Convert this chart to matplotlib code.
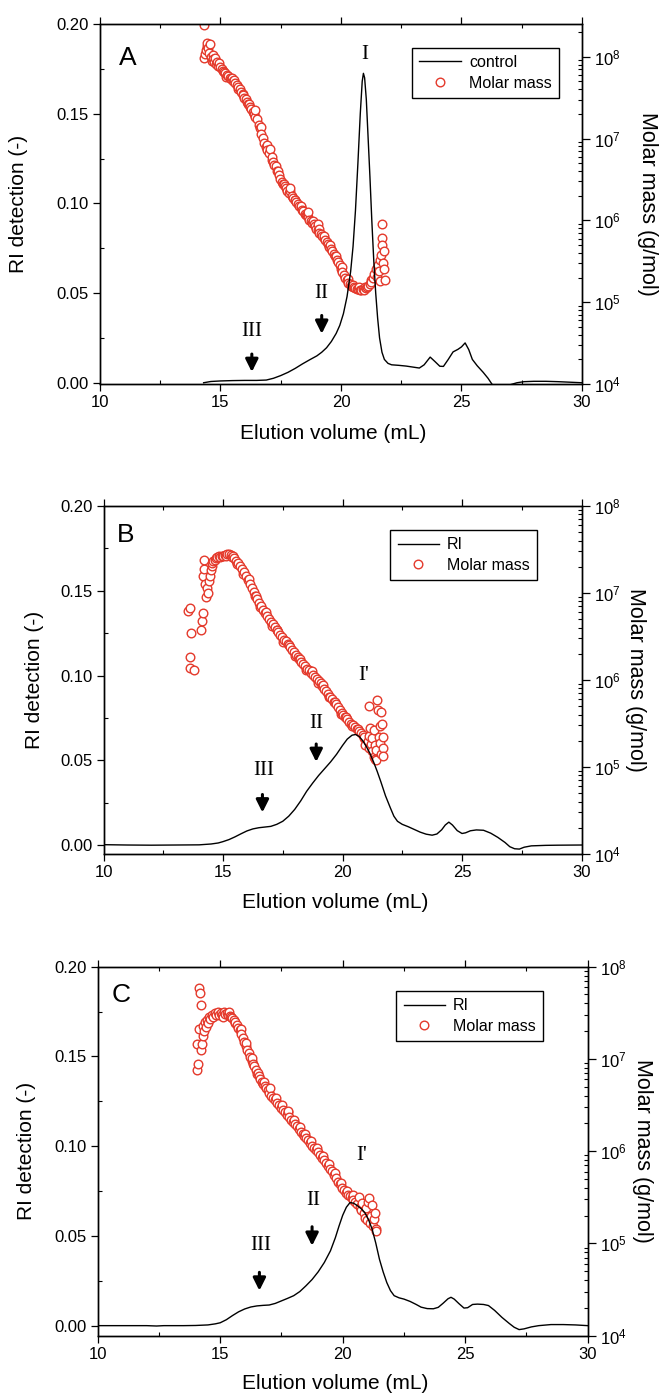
import numpy as np
import matplotlib
matplotlib.use('Agg')
import matplotlib.pyplot as plt
from matplotlib.ticker import MultipleLocator, LogLocator, LogFormatterSciNotation, NullFormatter

plt.rcParams['font.family'] = ['Liberation Sans', 'DejaVu Sans']
plt.rcParams['mathtext.fontset'] = 'custom'
plt.rcParams['mathtext.rm'] = 'Liberation Sans'
plt.rcParams['mathtext.it'] = 'Liberation Sans:italic'
plt.rcParams['mathtext.bf'] = 'Liberation Sans:bold'

# ---------------- Panel A data ----------------
ri_vol_A = [14.30, 14.60, 15.00, 15.50, 16.00, 16.50, 16.90, 17.20, 17.50, 17.80, 18.10, 18.40,
            18.70, 19.00, 19.20, 19.40, 19.60, 19.80, 19.95, 20.10, 20.25, 20.40, 20.50, 20.60,
            20.70, 20.80, 20.88, 20.93, 20.98, 21.05, 21.12, 21.20, 21.28, 21.36, 21.44, 21.52,
            21.60, 21.70, 21.80, 21.95, 22.10, 22.40, 22.70, 23.00, 23.25, 23.45, 23.70, 23.90,
            24.10, 24.25, 24.45, 24.65, 24.85, 25.00, 25.15, 25.30, 25.45, 25.65, 25.90, 26.10,
            26.30, 26.50, 26.75, 27.00, 27.30, 27.60, 28.00, 28.50, 29.00, 29.50, 30.00]
ri_sig_A = [0.0000, 0.0007, 0.0010, 0.0012, 0.0013, 0.0013, 0.0015, 0.0025, 0.0040, 0.0058, 0.0080, 0.0105,
            0.0128, 0.0150, 0.0170, 0.0195, 0.0230, 0.0275, 0.0320, 0.0385, 0.0480, 0.0620, 0.0760, 0.0960,
            0.1220, 0.1500, 0.1680, 0.1725, 0.1700, 0.1580, 0.1380, 0.1150, 0.0900, 0.0680, 0.0500, 0.0360,
            0.0250, 0.0170, 0.0130, 0.0108, 0.0100, 0.0097, 0.0093, 0.0087, 0.0082, 0.0100, 0.0143, 0.0118,
            0.0092, 0.0091, 0.0130, 0.0172, 0.0186, 0.0200, 0.0222, 0.0185, 0.0130, 0.0095, 0.0058, 0.0025,
            -0.0015, -0.0035, -0.0025, -0.0012, 0.0000, 0.0006, 0.0008, 0.0008, 0.0006, 0.0003, 0.0000]

mm_vol_A = [14.30, 14.33, 14.36, 14.40, 14.43, 14.46, 14.50, 14.53, 14.56, 14.60, 14.63, 14.67,
            14.70, 14.74, 14.78, 14.82, 14.86, 14.90, 14.95, 15.00, 15.05, 15.10, 15.15, 15.20,
            15.26, 15.32, 15.38, 15.44, 15.50, 15.56, 15.62, 15.68, 15.74, 15.80, 15.86, 15.92,
            15.98, 16.04, 16.10, 16.16, 16.22, 16.28, 16.34, 16.40, 16.45, 16.52, 16.58, 16.64,
            16.70, 16.76, 16.82, 16.88, 16.94, 17.00, 17.05, 17.12, 17.18, 17.24, 17.30, 17.36,
            17.42, 17.48, 17.54, 17.60, 17.66, 17.72, 17.78, 17.84, 17.90, 17.96, 18.02, 18.08,
            18.14, 18.20, 18.26, 18.32, 18.38, 18.44, 18.50, 18.56, 18.62, 18.65, 18.68, 18.74,
            18.80, 18.86, 18.92, 18.98, 19.04, 19.05, 19.10, 19.16, 19.22, 19.28, 19.34, 19.40,
            19.46, 19.52, 19.58, 19.64, 19.70, 19.76, 19.82, 19.88, 19.94, 20.00, 20.06, 20.12,
            20.18, 20.24, 20.30, 20.36, 20.42, 20.48, 20.54, 20.60, 20.66, 20.72, 20.78, 20.84,
            20.90, 20.96, 21.02, 21.08, 21.14, 21.20, 21.26, 21.32, 21.38, 21.44, 21.48, 21.52,
            21.56, 21.60, 21.62, 21.66, 21.69, 21.70, 21.72, 21.75, 21.77, 21.80, 21.83,
            15.23, 15.47, 15.71, 15.95, 16.19, 16.43, 16.67, 16.91, 17.15, 17.39, 17.63, 17.87,
            18.11, 18.35, 18.59, 18.83, 19.07, 19.31, 19.55, 19.79, 20.03, 20.27, 20.51, 20.75,
            20.99, 21.23]
mm_log_A = [8.39, 7.99, 8.03, 8.08, 8.13, 8.17, 8.11, 8.05, 8.16, 8.00, 7.95, 8.02,
            7.97, 7.93, 7.98, 7.91, 7.94, 7.89, 7.92, 7.87, 7.85, 7.83, 7.81, 7.80,
            7.78, 7.76, 7.74, 7.73, 7.70, 7.72, 7.68, 7.66, 7.63, 7.60, 7.57, 7.54,
            7.50, 7.48, 7.45, 7.42, 7.38, 7.36, 7.33, 7.30, 7.35, 7.24, 7.17, 7.13,
            7.06, 7.01, 6.95, 6.90, 6.86, 6.82, 6.87, 6.74, 6.71, 6.68, 6.66, 6.60,
            6.55, 6.50, 6.47, 6.44, 6.42, 6.39, 6.36, 6.34, 6.40, 6.30, 6.27, 6.25,
            6.22, 6.20, 6.18, 6.16, 6.13, 6.11, 6.08, 6.06, 6.04, 6.10, 6.01, 5.99,
            5.97, 5.95, 5.93, 5.90, 5.88, 5.96, 5.85, 5.83, 5.81, 5.78, 5.76, 5.73,
            5.71, 5.68, 5.65, 5.62, 5.59, 5.56, 5.52, 5.49, 5.45, 5.41, 5.37, 5.33,
            5.30, 5.27, 5.24, 5.22, 5.20, 5.19, 5.18, 5.17, 5.16, 5.16, 5.15, 5.15,
            5.16, 5.15, 5.17, 5.18, 5.20, 5.22, 5.25, 5.30, 5.35, 5.40, 5.31, 5.45,
            5.38, 5.52, 5.26, 5.58, 5.79, 5.96, 5.70, 5.48, 5.40, 5.62, 5.27,
            7.75, 7.74, 7.60, 7.53, 7.42, 7.26, 7.14, 6.92, 6.77, 6.60, 6.45, 6.36,
            6.25, 6.17, 6.06, 5.99, 5.90, 5.81, 5.70, 5.56, 5.43, 5.28, 5.21, 5.18,
            5.19, 5.27]

# ---------------- Panel B data ----------------
ri_vol_B = [10.0, 11.0, 12.0, 13.0, 14.0, 14.5, 14.8, 15.0, 15.25, 15.5, 15.75, 16.0, 16.25, 16.5,
            16.75, 17.0, 17.25, 17.5, 17.75, 18.0, 18.25, 18.5, 18.75, 19.0, 19.25, 19.5, 19.75,
            20.0, 20.2, 20.4, 20.55, 20.7, 20.85, 21.0, 21.15, 21.3, 21.45, 21.6, 21.8, 22.0,
            22.15, 22.3, 22.5, 22.75, 23.0, 23.25, 23.5, 23.75, 23.95, 24.15, 24.3, 24.45, 24.6,
            24.8, 25.0, 25.15, 25.35, 25.6, 25.9, 26.2, 26.5, 26.8, 27.0, 27.2, 27.4, 27.6, 27.9,
            28.5, 29.0, 30.0]
ri_sig_B = [0.0002, 0.0000, -0.0001, 0.0000, 0.0001, 0.0006, 0.0012, 0.0020, 0.0032, 0.0048, 0.0066,
            0.0083, 0.0095, 0.0102, 0.0106, 0.0110, 0.0122, 0.0140, 0.0170, 0.0210, 0.0260, 0.0317,
            0.0365, 0.0410, 0.0450, 0.0490, 0.0535, 0.0587, 0.0625, 0.0648, 0.0652, 0.0640, 0.0615,
            0.0580, 0.0540, 0.0490, 0.0435, 0.0375, 0.0290, 0.0220, 0.0170, 0.0140, 0.0122, 0.0108,
            0.0092, 0.0076, 0.0064, 0.0058, 0.0065, 0.0090, 0.0118, 0.0135, 0.0118, 0.0085, 0.0068,
            0.0072, 0.0084, 0.0089, 0.0087, 0.0070, 0.0045, 0.0015, -0.0010, -0.0022, -0.0024,
            -0.0013, -0.0005, -0.0002, -0.0001, 0.0000]

mm_vol_B = [13.55, 13.62, 13.65, 13.60, 13.60, 13.78, 14.10, 14.14, 14.18, 14.15, 14.22, 14.20,
            14.26, 14.30, 14.32, 14.36, 14.40, 14.44, 14.48, 14.52, 14.56, 14.60, 14.65, 14.70,
            14.76, 14.82, 14.88, 14.94, 15.00, 15.08, 15.16, 15.24, 15.32, 15.40, 15.48, 15.56,
            15.64, 15.72, 15.80, 15.88, 15.96, 16.04, 16.12, 16.20, 16.28, 16.36, 16.44, 16.52,
            16.60, 16.68, 16.76, 16.84, 16.92, 17.00, 17.08, 17.16, 17.24, 17.32, 17.40, 17.48,
            17.56, 17.64, 17.72, 17.80, 17.88, 17.96, 18.04, 18.12, 18.20, 18.28, 18.36, 18.44,
            18.52, 18.60, 18.68, 18.76, 18.84, 18.92, 19.00, 19.08, 19.16, 19.24, 19.32, 19.40,
            19.48, 19.56, 19.64, 19.72, 19.80, 19.88, 19.96, 20.04, 20.12, 20.20, 20.28, 20.36,
            20.44, 20.52, 20.60, 20.68, 20.76, 20.84, 20.92, 20.96, 21.05, 21.09, 21.10, 21.12,
            21.15, 21.20, 21.22, 21.25, 21.30, 21.32, 21.35, 21.37, 21.40, 21.42, 21.46, 21.49,
            21.52, 21.55, 21.58, 21.60, 21.63, 21.65, 21.68, 21.70, 21.70,
            15.12, 15.36, 15.60, 15.84, 16.08, 16.32, 16.56, 16.80, 17.04, 17.28, 17.52, 17.76,
            18.00, 18.24, 18.48, 18.72, 18.96, 19.20, 19.44, 19.68, 19.92, 20.16, 20.40, 20.64,
            20.88]
mm_log_B = [6.79, 6.83, 6.54, 6.27, 6.14, 6.12, 6.58, 6.68, 6.77, 7.20, 7.38, 7.28,
            7.10, 6.95, 7.06, 7.00, 7.14, 7.20, 7.26, 7.31, 7.34, 7.37, 7.38, 7.40,
            7.41, 7.42, 7.41, 7.43, 7.43, 7.44, 7.45, 7.45, 7.44, 7.43, 7.40, 7.37,
            7.34, 7.31, 7.28, 7.24, 7.20, 7.15, 7.10, 7.06, 7.01, 6.97, 6.93, 6.89,
            6.85, 6.81, 6.77, 6.74, 6.70, 6.67, 6.64, 6.61, 6.58, 6.55, 6.52, 6.49,
            6.46, 6.45, 6.41, 6.38, 6.35, 6.32, 6.29, 6.27, 6.24, 6.21, 6.18, 6.16,
            6.13, 6.11, 6.08, 6.06, 6.04, 6.01, 5.99, 5.96, 5.93, 5.90, 5.87, 5.84,
            5.81, 5.78, 5.75, 5.72, 5.69, 5.66, 5.62, 5.60, 5.57, 5.55, 5.52, 5.50,
            5.48, 5.46, 5.44, 5.41, 5.39, 5.37, 5.34, 5.25, 5.30, 5.70, 5.22, 5.36,
            5.45, 5.27, 5.18, 5.33, 5.42, 5.12, 5.25, 5.09, 5.20, 5.08, 5.77, 5.65,
            5.35, 5.28, 5.47, 5.15, 5.63, 5.50, 5.22, 5.34, 5.13,
            7.42, 7.41, 7.33, 7.22, 7.16, 6.97, 6.84, 6.78, 6.62, 6.58, 6.44, 6.40,
            6.28, 6.24, 6.12, 6.10, 5.97, 5.94, 5.80, 5.75, 5.61, 5.57, 5.47, 5.44,
            5.33]

# ---------------- Panel C data ----------------
ri_vol_C = [10.0, 11.0, 12.0, 12.4, 12.7, 13.5, 14.0, 14.5, 14.8, 15.0, 15.25, 15.5, 15.75, 16.0,
            16.25, 16.5, 16.75, 17.0, 17.25, 17.5, 17.75, 18.0, 18.25, 18.5, 18.75, 19.0, 19.25,
            19.5, 19.7, 19.85, 20.0, 20.15, 20.3, 20.45, 20.6, 20.75, 20.9, 21.05, 21.2, 21.35,
            21.5, 21.65, 21.8, 21.95, 22.1, 22.3, 22.5, 22.75, 23.0, 23.2, 23.45, 23.7, 23.9,
            24.1, 24.3, 24.42, 24.55, 24.75, 24.95, 25.1, 25.3, 25.5, 25.75, 25.95, 26.2, 26.5,
            26.8, 27.0, 27.2, 27.4, 27.7, 28.0, 28.5, 29.0, 29.5, 30.0]
ri_sig_C = [0.0000, 0.0000, 0.0000, -0.0002, 0.0000, 0.0000, 0.0001, 0.0004, 0.0010, 0.0016, 0.0033,
            0.0056, 0.0077, 0.0093, 0.0104, 0.0110, 0.0113, 0.0115, 0.0124, 0.0138, 0.0152, 0.0167,
            0.0190, 0.0222, 0.0257, 0.0300, 0.0352, 0.0417, 0.0490, 0.0555, 0.0615, 0.0660, 0.0686,
            0.0682, 0.0668, 0.0652, 0.0630, 0.0592, 0.0538, 0.0460, 0.0370, 0.0300, 0.0240, 0.0195,
            0.0167, 0.0155, 0.0148, 0.0135, 0.0118, 0.0103, 0.0095, 0.0094, 0.0102, 0.0125, 0.0150,
            0.0158, 0.0148, 0.0122, 0.0098, 0.0100, 0.0118, 0.0120, 0.0118, 0.0112, 0.0085, 0.0046,
            0.0012, -0.0009, -0.0022, -0.0018, -0.0007, 0.0000, 0.0006, 0.0006, 0.0004, 0.0000]

mm_vol_C = [14.05, 14.10, 14.05, 14.15, 14.17, 14.20, 14.15, 14.25, 14.22, 14.30, 14.28, 14.34,
            14.38, 14.42, 14.46, 14.50, 14.55, 14.60, 14.66, 14.72, 14.78, 14.84, 14.90, 14.96,
            15.02, 15.08, 15.14, 15.20, 15.26, 15.32, 15.38, 15.44, 15.50, 15.56, 15.62, 15.68,
            15.74, 15.80, 15.86, 15.92, 15.98, 16.04, 16.10, 16.16, 16.22, 16.28, 16.34, 16.40,
            16.46, 16.52, 16.58, 16.64, 16.70, 16.76, 16.82, 16.88, 16.94, 17.00, 17.08, 17.16,
            17.24, 17.32, 17.40, 17.48, 17.56, 17.64, 17.72, 17.77, 17.80, 17.88, 17.96, 18.04,
            18.12, 18.20, 18.28, 18.36, 18.44, 18.52, 18.60, 18.68, 18.76, 18.84, 18.92, 19.00,
            19.08, 19.16, 19.24, 19.32, 19.40, 19.48, 19.56, 19.64, 19.72, 19.80, 19.88, 19.96,
            20.04, 20.12, 20.20, 20.28, 20.36, 20.44, 20.52, 20.60, 20.66, 20.70, 20.75, 20.80,
            20.85, 20.90, 20.95, 21.00, 21.05, 21.08, 21.12, 21.16, 21.20, 21.24, 21.28, 21.32,
            21.34, 21.36,
            15.11, 15.35, 15.59, 15.83, 16.07, 16.31, 16.55, 16.79, 17.04, 17.28, 17.52, 17.76,
            18.00, 18.24, 18.48, 18.72, 18.96, 19.20, 19.44, 19.68, 19.92, 20.16, 20.40]
mm_log_C = [6.88, 6.94, 7.16, 7.77, 7.72, 7.58, 7.32, 7.16, 7.10, 7.25, 7.36, 7.30,
            7.40, 7.35, 7.42, 7.39, 7.45, 7.43, 7.48, 7.46, 7.50, 7.48, 7.51, 7.48,
            7.50, 7.48, 7.51, 7.49, 7.50, 7.48, 7.47, 7.46, 7.44, 7.42, 7.40, 7.37,
            7.34, 7.31, 7.27, 7.23, 7.18, 7.14, 7.10, 7.06, 7.02, 6.98, 6.95, 6.92,
            6.88, 6.84, 6.81, 6.78, 6.75, 6.73, 6.71, 6.68, 6.66, 6.63, 6.60, 6.58,
            6.55, 6.52, 6.50, 6.47, 6.45, 6.42, 6.39, 6.44, 6.37, 6.34, 6.32, 6.29,
            6.27, 6.24, 6.21, 6.19, 6.17, 6.14, 6.12, 6.09, 6.06, 6.04, 6.01, 5.99,
            5.96, 5.93, 5.90, 5.87, 5.84, 5.81, 5.78, 5.74, 5.71, 5.67, 5.64, 5.60,
            5.58, 5.55, 5.53, 5.51, 5.49, 5.47, 5.45, 5.43, 5.50, 5.40, 5.36, 5.44,
            5.33, 5.28, 5.38, 5.25, 5.45, 5.49, 5.22, 5.30, 5.42, 5.19, 5.26, 5.33,
            5.16, 5.13,
            7.46, 7.51, 7.39, 7.33, 7.17, 7.01, 6.85, 6.75, 6.68, 6.58, 6.50, 6.43,
            6.34, 6.26, 6.19, 6.11, 6.03, 5.95, 5.86, 5.76, 5.65, 5.57, 5.52]

RED = '#e4392b'

fig = plt.figure(figsize=(6.59, 13.99), dpi=100)


def panel(rect, ri_v, ri_y, mm_v, mm_l, ylim_l, ylim_r, letter, letter_xy, line_label,
          numerals, arrows, leg_anchor, ylab_x, yrlab_x, xlab_y):
    ax = fig.add_axes(rect)
    ax2 = ax.twinx()
    ax.set_zorder(ax2.get_zorder() + 1)
    ax.patch.set_visible(False)

    mv = np.asarray(mm_v)
    ml = np.asarray(mm_l)
    order = np.argsort(mv, kind='stable')
    hm, = ax2.plot(mv[order], 10 ** ml[order], 'o', ls='none', mfc='white', mec=RED,
                   ms=6.2, mew=1.0, label='Molar mass')
    hl, = ax.plot(ri_v, ri_y, '-', color='black', lw=1.0, label=line_label)

    ax.set_xlim(10, 30)
    ax.set_ylim(*ylim_l)
    ax2.set_yscale('log')
    ax2.set_ylim(*ylim_r)

    ax.xaxis.set_major_locator(MultipleLocator(5))
    ax.xaxis.set_minor_locator(MultipleLocator(2.5))
    ax.yaxis.set_major_locator(MultipleLocator(0.05))
    ax.yaxis.set_minor_locator(MultipleLocator(0.025))
    ax.yaxis.set_major_formatter(matplotlib.ticker.FormatStrFormatter('%.2f'))
    ax.tick_params(which='major', direction='out', length=5, width=0.9, labelsize=12, pad=3,
                   top=True, right=False)
    ax.tick_params(which='minor', direction='in', length=3, width=0.8, top=True, right=False)

    ax2.yaxis.set_major_locator(LogLocator(base=10, numticks=10))
    ax2.yaxis.set_minor_locator(LogLocator(base=10, subs=np.arange(2, 10), numticks=20))
    ax2.yaxis.set_major_formatter(LogFormatterSciNotation())
    ax2.yaxis.set_minor_formatter(NullFormatter())
    ax2.tick_params(which='major', direction='out', length=6, width=0.9, labelsize=12, pad=3)
    ax2.tick_params(which='minor', direction='in', length=3, width=0.8)

    for a in (ax, ax2):
        for s in a.spines.values():
            s.set_linewidth(1.0)

    ax.set_xlabel('Elution volume (mL)', fontsize=15)
    ax.xaxis.set_label_coords(0.484, xlab_y)
    ax.set_ylabel('RI detection (-)', fontsize=15)
    ax.yaxis.set_label_coords(ylab_x, 0.5)
    ax2.set_ylabel('Molar mass (g/mol)', fontsize=15.5, rotation=270, va='bottom')
    ax2.yaxis.set_label_coords(yrlab_x, 0.5)

    ax.text(letter_xy[0], letter_xy[1], letter, fontsize=19, ha='center', va='center')

    for (txt, x, y) in numerals:
        ax.text(x, y, txt, fontsize=15, family='Liberation Serif', ha='center', va='center')
    for (x, y0, y1) in arrows:
        ax.annotate('', xy=(x, y1), xytext=(x, y0),
                    arrowprops=dict(arrowstyle='-|>,head_length=0.5,head_width=0.25',
                                    lw=2.2, color='black', shrinkA=0, shrinkB=0,
                                    mutation_scale=15))

    leg = ax.legend([hl, hm], [line_label, 'Molar mass'], loc='upper right',
                    bbox_to_anchor=leg_anchor, fontsize=11.5, frameon=True, fancybox=False,
                    edgecolor='black', framealpha=1, numpoints=1, handlelength=2.6,
                    borderpad=0.45, labelspacing=0.35, handletextpad=0.5, borderaxespad=0)
    leg.get_frame().set_linewidth(1.0)
    return ax, ax2


panel([100 / 659, 1 - 384 / 1399, 482 / 659, 360 / 1399],
      ri_vol_A, ri_sig_A, mm_vol_A, mm_log_A, (-0.0007, 0.2), (1e4, 10 ** 8.40),
      'A', (11.15, 0.181), 'control',
      [('I', 21.0, 0.183), ('II', 19.18, 0.050), ('III', 16.3, 0.0286)],
      [(19.2, 0.0375, 0.0273), (16.3, 0.016, 0.006)],
      (0.952, 0.934), -0.150, 1.115, -0.112)

panel([103.5 / 659, 1 - 854 / 1399, 478 / 659, 348 / 1399],
      ri_vol_B, ri_sig_B, mm_vol_B, mm_log_B, (-0.0053, 0.2), (1e4, 1e8),
      'B', (10.91, 0.183), 'RI',
      [("I'", 20.88, 0.100), ('II', 18.9, 0.0717), ('III', 16.72, 0.0442)],
      [(18.9, 0.0596, 0.049), (16.65, 0.0298, 0.0192)],
      (0.907, 0.931), -0.125, 1.092, -0.113)

panel([97.7 / 659, 1 - 1335.7 / 1399, 490 / 659, 369 / 1399],
      ri_vol_C, ri_sig_C, mm_vol_C, mm_log_C, (-0.0056, 0.2), (1e4, 1e8),
      'C', (10.94, 0.184), 'RI',
      [("I'", 20.77, 0.0946), ('II', 18.8, 0.0696), ('III', 16.66, 0.0449)],
      [(18.75, 0.0551, 0.0445), (16.6, 0.0297, 0.0195)],
      (0.909, 0.934), -0.125, 1.091, -0.105)

fig.savefig('out.png', dpi=100)
